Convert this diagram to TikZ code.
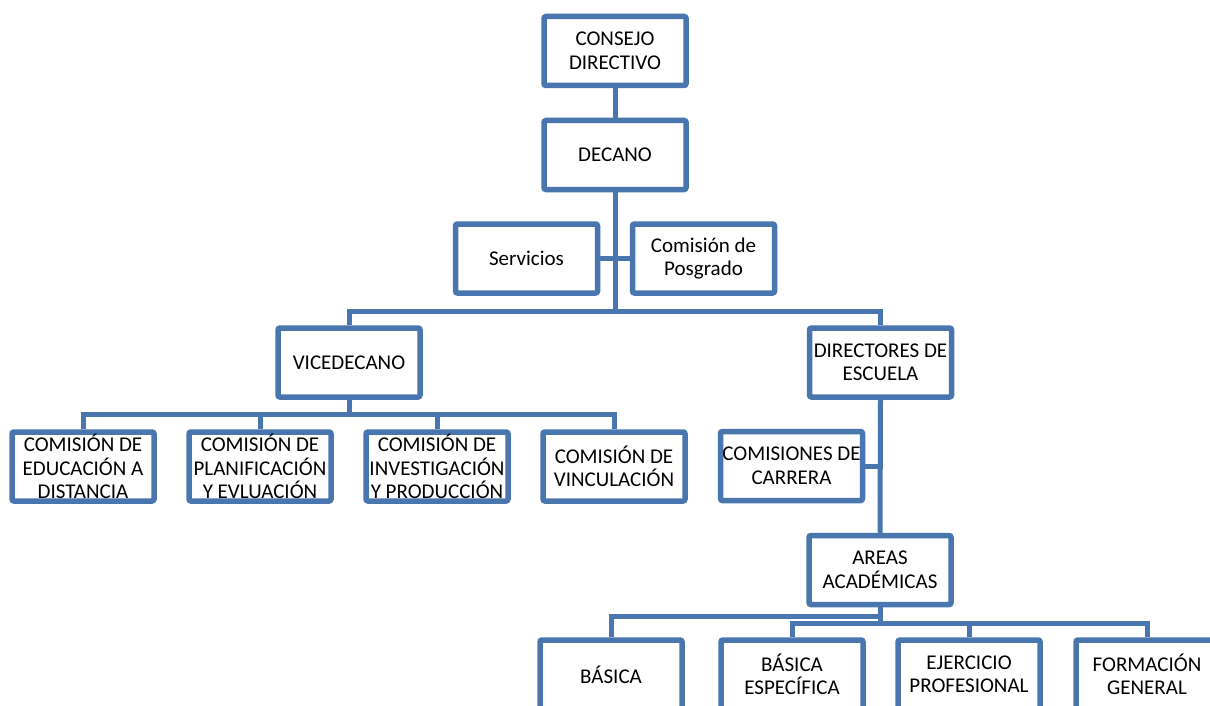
\documentclass[tikz,border=0pt]{standalone}
\usepackage{fontspec}
\setmainfont{Carlito}
\definecolor{obl}{HTML}{4A76AF}
\begin{document}
\begin{tikzpicture}[x=1pt,y=-1pt,
  box/.style={draw=obl,line width=5.5pt,rounded corners=2pt,fill=white,
    minimum width=142pt,minimum height=69pt,inner sep=0pt,align=center,
    font=\fontsize{21}{23.5}\selectfont},
  link/.style={draw=obl,line width=5pt}]
\useasboundingbox (0,0) rectangle (1210,706);
\clip (0,0) rectangle (1210,706);
% boxes
\node[box] (cons) at (615,51) {CONSEJO\\DIRECTIVO};
\node[box] (dec) at (615,155) {DECANO};
\node[box] (serv) at (526.5,258.5) {Servicios};
\node[box] (pos) at (703.5,258.5) {Comisión de\\Posgrado};
\node[box] (vice) at (349,362.5) {VICEDECANO};
\node[box] (dir) at (880.5,362.5) {DIRECTORES DE\\ESCUELA};
\node[box] (c1) at (83,466.5) {COMISIÓN DE\\EDUCACIÓN A\\DISTANCIA};
\node[box] (c2) at (260,466.5) {COMISIÓN DE\\PLANIFICACIÓN\\Y EVLUACIÓN};
\node[box] (c3) at (437,466.5) {COMISIÓN DE\\INVESTIGACIÓN\\Y PRODUCCIÓN};
\node[box] (c4) at (614,466.5) {COMISIÓN DE\\VINCULACIÓN};
\node[box] (carr) at (791.5,466) {COMISIONES DE\\CARRERA};
\node[box] (areas) at (880,570) {AREAS\\ACADÉMICAS};
\node[box] (bas) at (611,674.5) {BÁSICA};
\node[box] (esp) at (792,674.5) {BÁSICA\\ESPECÍFICA};
\node[box] (ej) at (969,674.5) {EJERCICIO\\PROFESIONAL};
\node[box] (form) at (1147,674.5) {FORMACIÓN\\GENERAL};
% bus coordinates
\coordinate (b1) at (615,311);
\coordinate (b2) at (349,414);
\coordinate (b3) at (880,616);
\coordinate (b4) at (880,623);
% connectors
\draw[link] (cons.south) -- (dec.north);
\draw[link] (dec.south) -- (b1);
\draw[link] (serv.east) -- (pos.west);
\draw[link] (vice.north) |- (b1) -| (dir.north);
\draw[link] (vice.south) -- (b2);
\draw[link] (c1.north) |- (b2) -| (c4.north);
\draw[link] (c2.north) -- (c2.north |- b2);
\draw[link] (c3.north) -- (c3.north |- b2);
\draw[link] (dir.south) -- (areas.north);
\draw[link] (carr.east) -- (carr.east -| dir.south);
\draw[link] (areas.south) -- (b4);
\draw[link] (bas.north) |- (b3);
\draw[link] (esp.north) |- (b4) -| (form.north);
\draw[link] (ej.north) -- (ej.north |- b4);
\end{tikzpicture}
\end{document}
